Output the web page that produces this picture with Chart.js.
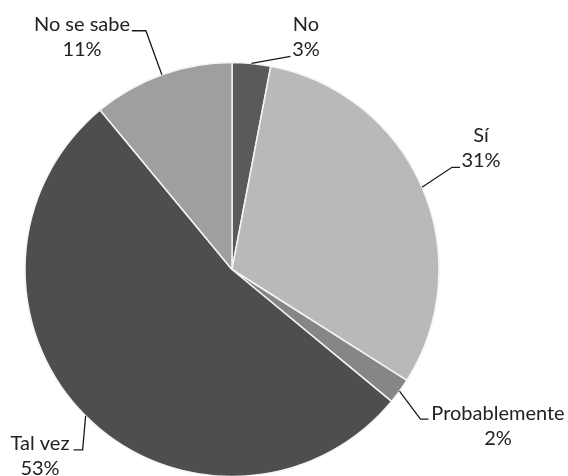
<!DOCTYPE html>
<html>
<head>
<meta charset="utf-8">
<script src="https://cdn.jsdelivr.net/npm/chart.js@4"></script>
<style>
    html, body { margin: 0; padding: 0; background: #fff; }
    #wrap { width: 568px; height: 476px; position: relative; }
</style>
</head>
<body>
<div id="wrap"><canvas id="pieChart" width="568" height="476"></canvas></div>
<script>
// Chart data
const categories = ['No', 'Sí', 'Probablemente', 'Tal vez', 'No se sabe'];
const percentages = [3, 31, 2, 53, 11];
const sliceColors = ['#5a5a5a', '#b9b9b9', '#868686', '#4e4e4e', '#9f9f9f'];

// Where each label goes: leader bends (offsets from slice edge) and text centre
const labelLayout = [
    { leader: [[39, -7]], text: [306, 25] },
    { leader: [[30, -20], [38, -20]], text: [481, 136] },
    { leader: [[21, 28], [29, 28]], text: [498, 414] },
    { leader: [[-3, 34], [-12, 34]], text: [40, 444] },
    { leader: [[-16, -44], [-30, -44]], text: [82, 25] }
];

// Draws the callout labels with their leader lines
const calloutPlugin = {
    id: 'callouts',
    afterDatasetsDraw(chart) {
        const ctx = chart.ctx;
        const arcs = chart.getDatasetMeta(0).data;
        ctx.save();
        ctx.strokeStyle = '#1a1a1a';
        ctx.lineWidth = 1.3;
        ctx.fillStyle = '#222';
        ctx.font = '20px Lato';
        ctx.textAlign = 'center';
        ctx.textBaseline = 'middle';
        arcs.forEach((arc, i) => {
            const p = arc.getProps(['x', 'y', 'startAngle', 'endAngle', 'outerRadius'], true);
            const mid = (p.startAngle + p.endAngle) / 2;
            const ax = p.x + Math.cos(mid) * p.outerRadius;
            const ay = p.y + Math.sin(mid) * p.outerRadius;
            const layout = labelLayout[i];
            ctx.beginPath();
            ctx.moveTo(ax, ay);
            layout.leader.forEach(pt => ctx.lineTo(ax + pt[0], ay + pt[1]));
            ctx.stroke();
            ctx.fillText(categories[i], layout.text[0], layout.text[1]);
            ctx.fillText(percentages[i] + '%', layout.text[0], layout.text[1] + 25);
        });
        ctx.restore();
    }
};

const ctx = document.getElementById('pieChart').getContext('2d');
const chart = new Chart(ctx, {
    type: 'pie',
    data: {
        labels: categories,
        datasets: [{
            data: percentages,
            backgroundColor: sliceColors,
            borderColor: '#f4f4f4',
            borderWidth: 1.5
        }]
    },
    options: {
        responsive: false,
        animation: false,
        radius: 207,
        layout: {
            padding: { left: 25, right: 129, top: 63, bottom: 0 }
        },
        plugins: {
            legend: { display: false },
            tooltip: { enabled: false }
        }
    },
    plugins: [calloutPlugin]
});
</script>
</body>
</html>
